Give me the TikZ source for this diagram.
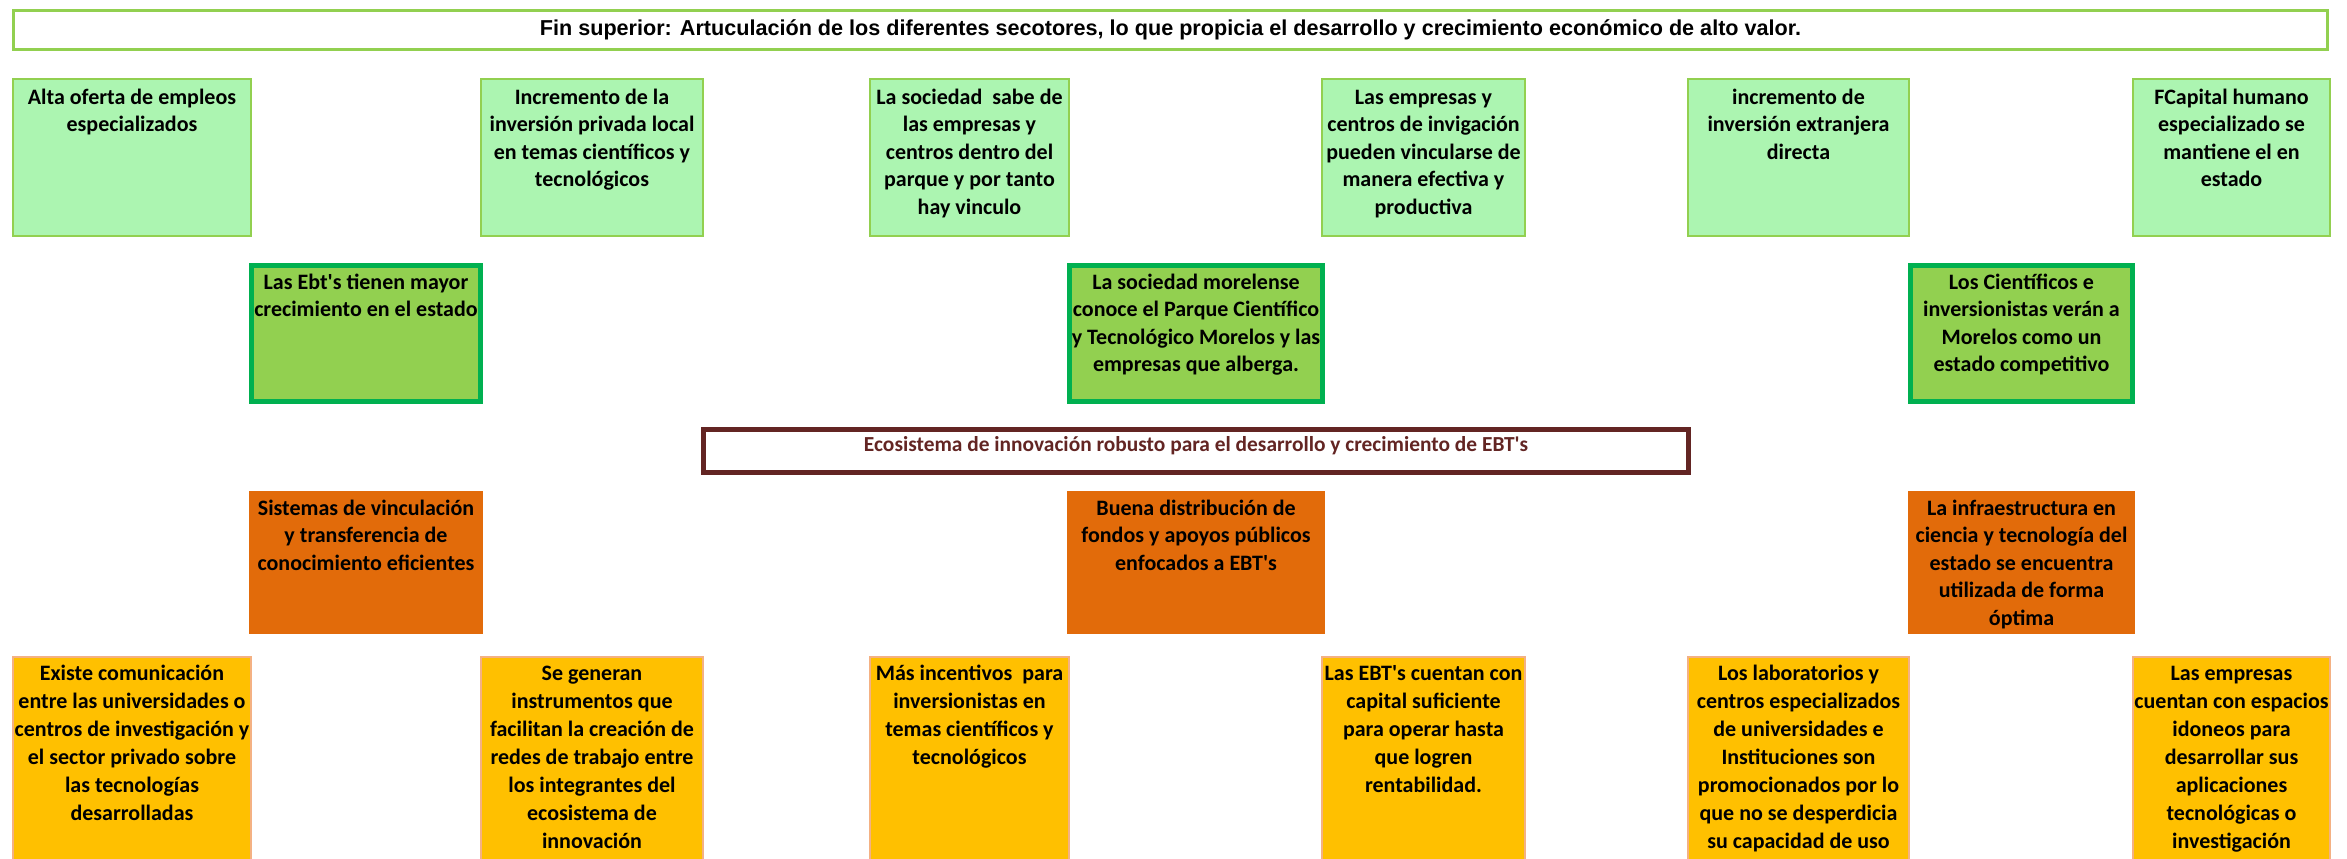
\documentclass[tikz,border=0pt]{standalone}
\usepackage{fontspec}
\setmainfont{Carlito}[Ligatures=TeXOff]
\newfontfamily\arialf{Liberation Sans}
\definecolor{lgfill}{HTML}{ACF5B1}
\definecolor{lgline}{HTML}{92D050}
\definecolor{dgfill}{HTML}{92D050}
\definecolor{dgline}{HTML}{00B050}
\definecolor{orfill}{HTML}{E26B0A}
\definecolor{yefill}{HTML}{FFC000}
\definecolor{yeline}{HTML}{F4B183}
\definecolor{maroon}{HTML}{632523}
\newcommand\fs{\rule{0pt}{9.6pt}}
\begin{document}
\begin{tikzpicture}[x=0.5pt,y=-0.5pt,
  titlebox/.style={draw=lgline, line width=1.5pt, fill=white, minimum width=1157pt, minimum height=19.5pt, inner sep=0pt,
    font=\arialf\bfseries\fontsize{10.8}{12}\selectfont},
  lgbox/.style={draw=lgline, line width=1pt, fill=lgfill, minimum height=78.5pt, inner sep=0pt},
  dgbox/.style={draw=dgline, line width=2.5pt, fill=dgfill, minimum height=68pt, inner sep=0pt},
  orbox/.style={draw=none, fill=orfill, minimum height=71.5pt, inner sep=0pt},
  yebox/.style={draw=yeline, line width=1pt, fill=yefill, minimum height=110pt, inner sep=0pt},
  ecobox/.style={draw=maroon, line width=2.5pt, fill=white, minimum width=492.5pt, minimum height=21.5pt, inner sep=0pt},
  txt/.style={anchor=north, inner sep=0pt, align=center, font=\bfseries\fontsize{11}{13.75}\selectfont},
  txtb/.style={anchor=north, inner sep=0pt, align=center, font=\bfseries\fontsize{11}{14}\selectfont},
]
\useasboundingbox (0,0) rectangle (2347,858);

% title
\node[titlebox] (title) at (1170.5,30) {Fin superior: Artuculación de los diferentes secotores, lo que propicia el desarrollo y crecimiento económico de alto valor.};

% row 1
\node[lgbox, minimum width=119pt] (a1) at (132,157.5) {};
\node[lgbox, minimum width=111pt] (a2) at (592,157.5) {};
\node[lgbox, minimum width=99.5pt] (a3) at (969.5,157.5) {};
\node[lgbox, minimum width=101.5pt] (a4) at (1423.5,157.5) {};
\node[lgbox, minimum width=110.5pt] (a5) at (1798.5,157.5) {};
\node[lgbox, minimum width=98.5pt] (a6) at (2231.5,157.5) {};
\node[txt] (a1t) at ([yshift=-3.4pt]a1.north) {\fs Alta oferta de empleos\\especializados};
\node[txt] (a2t) at ([yshift=-3.4pt]a2.north) {\fs Incremento de la\\inversión privada local\\en temas científicos y\\tecnológicos};
\node[txt] (a3t) at ([yshift=-3.4pt]a3.north) {\fs La sociedad~ sabe de\\las empresas y\\centros dentro del\\parque y por tanto\\hay vinculo};
\node[txt] (a4t) at ([yshift=-3.4pt]a4.north) {\fs Las empresas y\\centros de invigación\\pueden vincularse de\\manera efectiva y\\productiva};
\node[txt] (a5t) at ([yshift=-3.4pt]a5.north) {\fs incremento de\\inversión extranjera\\directa};
\node[txt] (a6t) at ([yshift=-3.4pt]a6.north) {\fs FCapital humano\\especializado se\\mantiene el en\\estado};

% row 2
\node[dgbox, minimum width=114.5pt] (b1) at (366,333.5) {};
\node[dgbox, minimum width=126.5pt] (b2) at (1196,333.5) {};
\node[dgbox, minimum width=111pt] (b3) at (2021.5,333.5) {};
\node[txt] (b1t) at ([yshift=-3.4pt]b1.north) {\fs Las Ebt's tienen mayor\\crecimiento en el estado};
\node[txt] (b2t) at ([yshift=-3.4pt]b2.north) {\fs La sociedad morelense\\conoce el Parque Científico\\y Tecnológico Morelos y las\\empresas que alberga.};
\node[txt] (b3t) at ([yshift=-3.4pt]b3.north) {\fs Los Científicos e\\inversionistas verán a\\Morelos como un\\estado competitivo};

% ecosistema
\node[ecobox] (eco) at (1196,451) {};
\node[txt, text=maroon, font=\bfseries\fontsize{10.7}{13.75}\selectfont] (ecot) at ([yshift=-2.2pt]eco.north) {\fs Ecosistema de innovación robusto para el desarrollo y crecimiento de EBT's};

% row 3
\node[orbox, minimum width=117pt] (c1) at (366,562.5) {};
\node[orbox, minimum width=129pt] (c2) at (1196,562.5) {};
\node[orbox, minimum width=113.5pt] (c3) at (2021.5,562.5) {};
\node[txt] (c1t) at ([yshift=-2.4pt]c1.north) {\fs Sistemas de vinculación\\y transferencia de\\conocimiento eficientes};
\node[txt] (c2t) at ([yshift=-2.4pt]c2.north) {\fs Buena distribución de\\fondos y apoyos públicos\\enfocados a EBT's};
\node[txt] (c3t) at ([yshift=-2.4pt]c3.north) {\fs La infraestructura en\\ciencia y tecnología del\\estado se encuentra\\utilizada de forma\\óptima};

% row 4
\node[yebox, minimum width=119pt] (d1) at (132,767) {};
\node[yebox, minimum width=111pt] (d2) at (592,767) {};
\node[yebox, minimum width=99.5pt] (d3) at (969.5,767) {};
\node[yebox, minimum width=101.5pt] (d4) at (1423.5,767) {};
\node[yebox, minimum width=110.5pt] (d5) at (1798.5,767) {};
\node[yebox, minimum width=98.5pt] (d6) at (2231.5,767) {};
\node[txtb] (d1t) at ([yshift=-2.4pt]d1.north) {\fs Existe comunicación\\entre las universidades o\\centros de investigación y\\el sector privado sobre\\las tecnologías\\desarrolladas};
\node[txtb] (d2t) at ([yshift=-2.4pt]d2.north) {\fs Se generan\\instrumentos que\\facilitan la creación de\\redes de trabajo entre\\los integrantes del\\ecosistema de\\innovación};
\node[txtb] (d3t) at ([yshift=-2.4pt]d3.north) {\fs Más incentivos~ para\\inversionistas en\\temas científicos y\\tecnológicos};
\node[txtb] (d4t) at ([yshift=-2.4pt]d4.north) {\fs Las EBT's cuentan con\\capital suficiente\\para operar hasta\\que logren\\rentabilidad.};
\node[txtb] (d5t) at ([yshift=-2.4pt]d5.north) {\fs Los laboratorios y\\centros especializados\\de universidades e\\Instituciones son\\promocionados por lo\\que no se desperdicia\\su capacidad de uso};
\node[txtb] (d6t) at ([yshift=-2.4pt]d6.north) {\fs Las empresas\\cuentan con espacios\\idoneos para\\desarrollar sus\\aplicaciones\\tecnológicas o\\investigación};
\end{tikzpicture}
\end{document}
